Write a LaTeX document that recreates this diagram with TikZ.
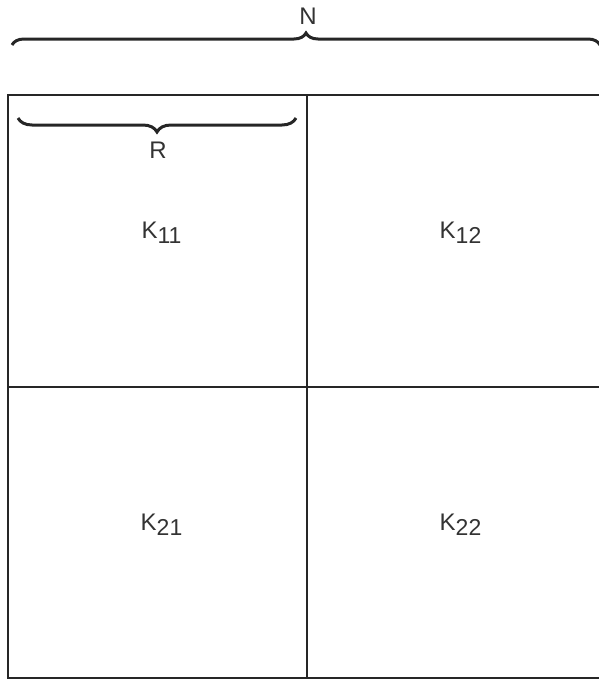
\documentclass[tikz,border=0pt]{standalone}
\usepackage{fontspec}
\setmainfont{Liberation Sans}
\usetikzlibrary{positioning, decorations.pathreplacing}

\tikzset{
  cell/.style={draw=black!85, line width=1.8pt, minimum width=299pt, minimum height=292pt,
    inner sep=0pt, outer sep=0pt},
  lbl/.style={font=\fontsize{24}{28}\selectfont, text=black!80},
  brc/.style={decorate, decoration={brace, amplitude=#1}, line width=3pt, draw=black!85},
  brc/.default=12pt
}
\newcommand{\Kij}[1]{K\raisebox{-0.4ex}{\fontsize{23}{26}\selectfont #1}}

\begin{document}
\begin{tikzpicture}[x=1pt, y=-1pt]
\useasboundingbox (0,0) rectangle (599,680);
% the four blocks
\node[cell, anchor=north west] (c11) at (8,95) {};
\node[cell, right=0pt of c11] (c12) {};
\node[cell, below=0pt of c11, minimum height=291pt] (c21) {};
\node[cell, right=0pt of c21, minimum height=291pt] (c22) {};
\node[lbl] (k11) at ([xshift=4pt, yshift=8pt]c11.center) {\Kij{11}};
\node[lbl] (k12) at ([xshift=4pt, yshift=8pt]c12.center) {\Kij{12}};
\node[lbl] (k21) at ([xshift=4pt, yshift=8pt]c21.center) {\Kij{21}};
\node[lbl] (k22) at ([xshift=4pt, yshift=8pt]c22.center) {\Kij{22}};
% braces
\coordinate (nl) at (12,45);
\coordinate (nr) at (600,45);
\draw[brc] (nl) -- (nr);
\node[lbl] (n) at (308,16) {N};
\coordinate (rl) at (18,118);
\coordinate (rr) at (296,118);
\draw[brc=14pt, decoration={mirror}] (rl) -- (rr);
\node[lbl] (r) at (158,150) {R};
\end{tikzpicture}
\end{document}
